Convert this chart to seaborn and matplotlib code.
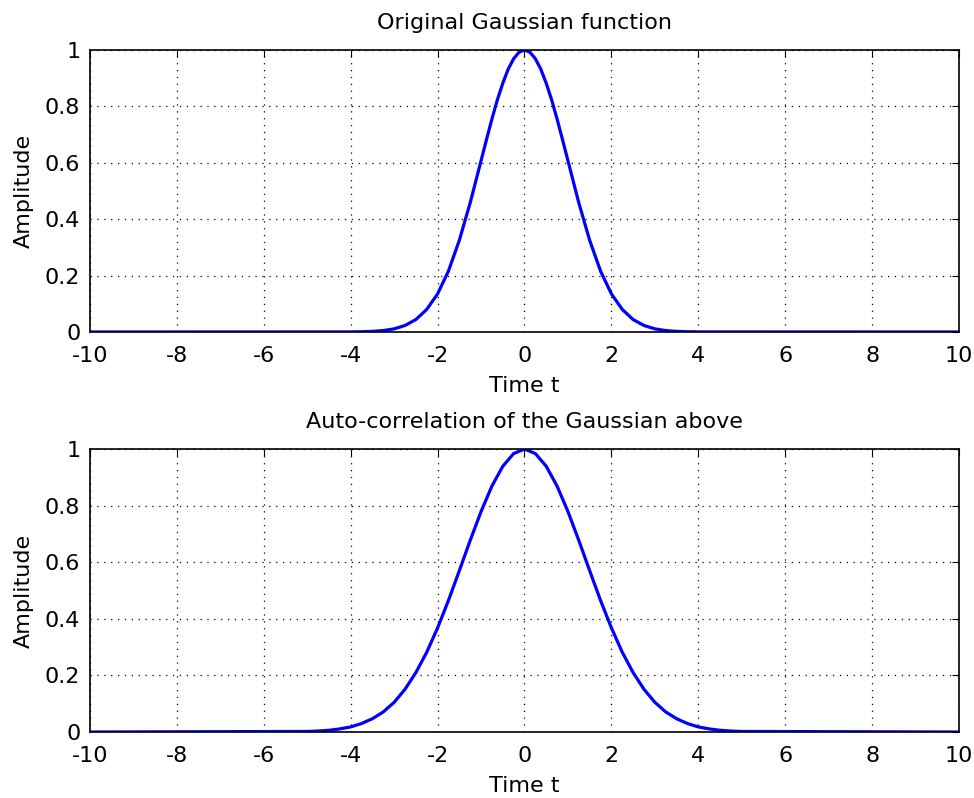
import numpy as np
import pandas as pd
import seaborn as sns
import matplotlib
matplotlib.use("Agg")
import matplotlib.pyplot as plt

# values
t_orig = [-10, -4.0, -3.75, -3.5, -3.25, -3.0, -2.75, -2.5, -2.25, -2.0, -1.75, -1.5, -1.25,
          -1.0, -0.875, -0.75, -0.625, -0.5, -0.375, -0.25, -0.125, 0.0, 0.125, 0.25, 0.375, 0.5,
          0.625, 0.75, 0.875, 1.0, 1.25, 1.5, 1.75, 2.0,
          2.25, 2.5, 2.75, 3.0, 3.25, 3.5, 3.75, 4.0, 10]
amp_orig = [0.0, 0.0003, 0.0009, 0.0022, 0.005, 0.011, 0.023, 0.044, 0.080, 0.135, 0.216, 0.325, 0.458,
            0.607, 0.682, 0.755, 0.823, 0.882, 0.932, 0.969, 0.992, 1.0, 0.992, 0.969, 0.932, 0.882,
            0.823, 0.755, 0.682, 0.607, 0.458, 0.325, 0.216, 0.135,
            0.080, 0.044, 0.023, 0.011, 0.005, 0.0022, 0.0009, 0.0003, 0.0]

t_acorr = [-10, -5.0, -4.75, -4.5, -4.25, -4.0, -3.75, -3.5, -3.25, -3.0, -2.75, -2.5, -2.25,
           -2.0, -1.75, -1.5, -1.25, -1.0, -0.75, -0.5, -0.25, 0.0, 0.25, 0.5, 0.75, 1.0,
           1.25, 1.5, 1.75, 2.0, 2.25, 2.5, 2.75, 3.0, 3.25, 3.5, 3.75, 4.0, 4.25, 4.5,
           4.75, 5.0, 10]
amp_acorr = [0.0, 0.002, 0.0035, 0.006, 0.011, 0.018, 0.030, 0.047, 0.071, 0.105, 0.151, 0.210, 0.282,
             0.368, 0.465, 0.570, 0.677, 0.779, 0.869, 0.939, 0.984, 1.0, 0.984, 0.939, 0.869, 0.779,
             0.677, 0.570, 0.465, 0.368, 0.282, 0.210, 0.151, 0.105, 0.071, 0.047, 0.030, 0.018, 0.011, 0.006,
             0.0035, 0.002, 0.0]

titles = ["Original Gaussian function", "Auto-correlation of the Gaussian above"]
xticks = list(range(-10, 11, 2))
yticks = [0, 0.2, 0.4, 0.6, 0.8, 1]
ytick_labels = ["0", "0.2", "0.4", "0.6", "0.8", "1"]

sns.set_style("white")
plt.rcParams['font.family'] = ['DejaVu Sans']
plt.rcParams['text.color'] = 'black'
plt.rcParams['axes.labelcolor'] = 'black'

fs = 16

fig = plt.figure(figsize=(9.74, 7.98), dpi=100)
ax1 = fig.add_axes([0.0924, 0.584, 0.8922, 0.3534])
ax2 = fig.add_axes([0.0924, 0.0827, 0.8922, 0.3546])

data = [(t_orig, amp_orig), (t_acorr, amp_acorr)]
for ax, (tt, aa), title in zip([ax1, ax2], data, titles):
    df = pd.DataFrame({"t": tt, "amp": aa})
    sns.lineplot(data=df, x="t", y="amp", ax=ax, color="#0000ff", linewidth=2.3)
    ax.set_xlim(-10, 10)
    ax.set_ylim(0, 1)
    ax.set_xticks(xticks)
    ax.set_xticklabels([str(v) for v in xticks])
    ax.set_yticks(yticks)
    ax.set_yticklabels(ytick_labels)
    ax.grid(True, color="black", linestyle=(0, (1, 4.5)), linewidth=0.9)
    ax.tick_params(direction="in", top=True, right=True, length=5, width=0.8,
                   labelsize=fs, colors="black")
    ax.tick_params(axis="x", pad=10)
    ax.tick_params(axis="y", pad=7)
    for s in ax.spines.values():
        s.set_color("black")
        s.set_linewidth(1.2)
    ax.set_title(title, fontsize=fs, pad=15)
    ax.set_xlabel("Time t", fontsize=fs, labelpad=7)
    ax.set_ylabel("Amplitude", fontsize=fs, labelpad=8)

fig.savefig("out.png", dpi=100, facecolor="white")
